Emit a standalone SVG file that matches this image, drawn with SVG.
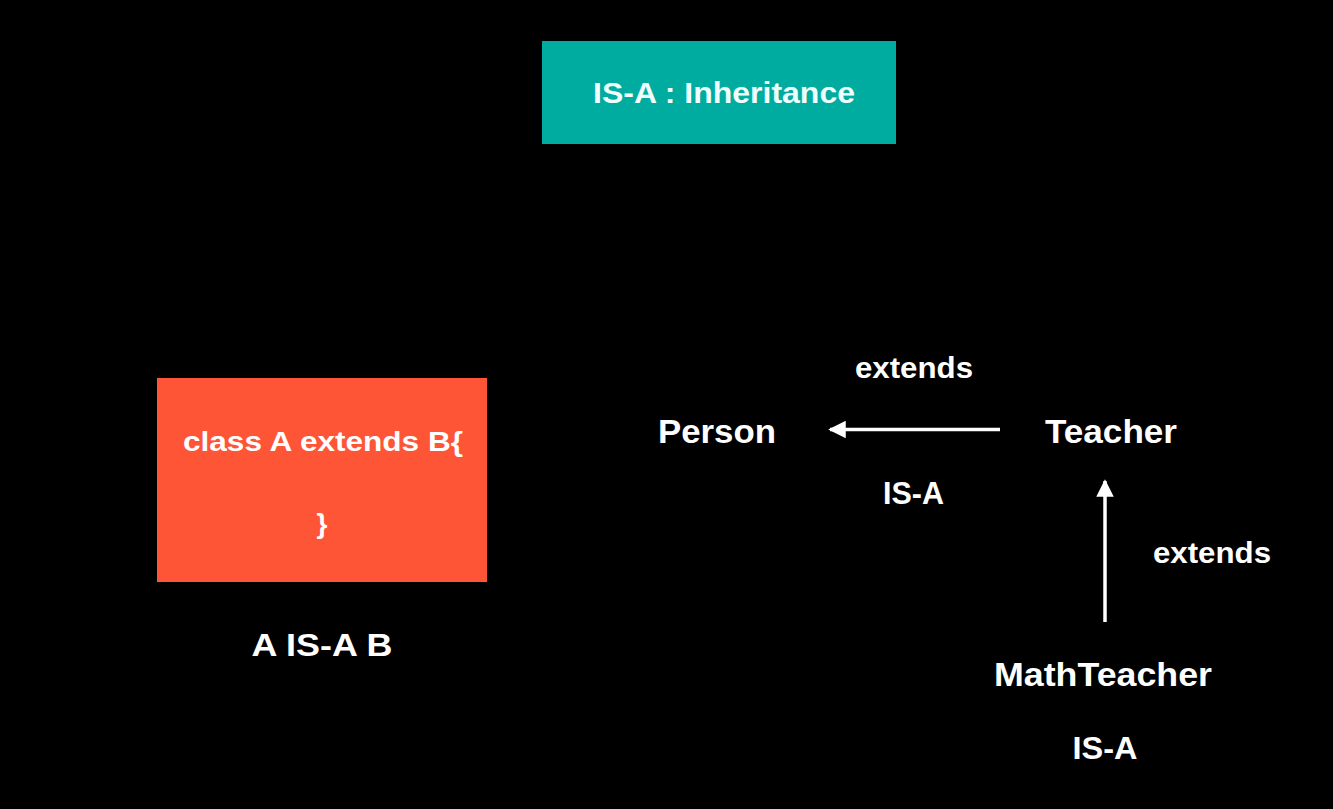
<svg xmlns="http://www.w3.org/2000/svg" width="1333" height="809" viewBox="0 0 1333 809">
<style>
text{font-family:"Liberation Sans",Arial,sans-serif;font-weight:bold;fill:#ffffff;text-anchor:middle}
.conn{stroke:#ffffff;stroke-width:3.5;fill:none}
</style>
<defs>
<marker id="ah" viewBox="0 0 10 10" refX="9" refY="5" markerWidth="5" markerHeight="5" markerUnits="strokeWidth" orient="auto">
<path d="M0,0 L10,5 L0,10 z" fill="#ffffff"/>
</marker>
</defs>
<rect x="0" y="0" width="1333" height="809" fill="#000000"/>
<g id="title">
<rect x="542" y="41" width="354" height="103" fill="#00AC9F"/>
<text x="724" y="103" font-size="30" textLength="262" lengthAdjust="spacingAndGlyphs" style="fill:#F0FFFD">IS-A : Inheritance</text>
</g>
<g id="classbox">
<rect x="157" y="378" width="330" height="204" fill="#FF5537"/>
<text x="323" y="451" font-size="28" textLength="280" lengthAdjust="spacingAndGlyphs">class A extends B{</text>
<text x="322" y="533" font-size="28">}</text>
</g>
<g id="aisab">
<text x="322" y="656" font-size="31" textLength="141" lengthAdjust="spacingAndGlyphs">A IS-A B</text>
</g>
<g id="person">
<text x="717" y="443" font-size="34" textLength="118" lengthAdjust="spacingAndGlyphs">Person</text>
</g>
<g id="teacher">
<text x="1111" y="443" font-size="34" textLength="132" lengthAdjust="spacingAndGlyphs">Teacher</text>
</g>
<g id="mathteacher">
<text x="1103" y="686" font-size="33" textLength="218" lengthAdjust="spacingAndGlyphs">MathTeacher</text>
<text x="1105" y="759" font-size="31" textLength="65" lengthAdjust="spacingAndGlyphs">IS-A</text>
</g>
<g id="connectors">
<line class="conn" x1="1000" y1="429.5" x2="830" y2="429.5" marker-end="url(#ah)"/>
<line class="conn" x1="1105" y1="622" x2="1105" y2="481" marker-end="url(#ah)"/>
<text x="914" y="378" font-size="30" textLength="118" lengthAdjust="spacingAndGlyphs">extends</text>
<text x="913.5" y="504" font-size="31" textLength="61" lengthAdjust="spacingAndGlyphs">IS-A</text>
<text x="1212" y="563" font-size="30" textLength="118" lengthAdjust="spacingAndGlyphs">extends</text>
</g>
</svg>
